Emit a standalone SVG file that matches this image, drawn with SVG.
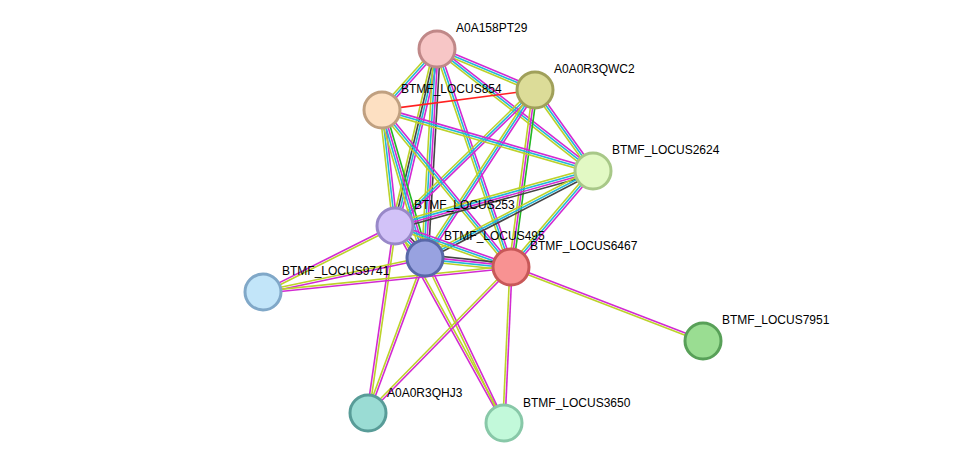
<svg xmlns="http://www.w3.org/2000/svg" width="975" height="470" viewBox="0 0 975 470">
<style>
line{stroke-width:1.6;fill:none}
.m{stroke:#d22ad2}.c{stroke:#22b8d8}.y{stroke:#bcd22a}.k{stroke:#444}.g{stroke:#22b822}.r{stroke:#ff2020}
circle{stroke-width:3}
text{font-family:"Liberation Sans",Arial,sans-serif;font-size:12px;fill:#000}
</style>
<rect width="975" height="470" fill="#fff"/>
<g id="connectors">
<g transform="translate(437,49) rotate(22.7)"><line class="m" x1="0" y1="-2.2" x2="106.2" y2="-2.2"/><line class="c" x1="0" y1="0" x2="106.2" y2="0"/><line class="y" x1="0" y1="2.2" x2="106.2" y2="2.2"/></g>
<g transform="translate(437,49) rotate(132)"><line class="m" x1="0" y1="-2.2" x2="82.1" y2="-2.2"/><line class="c" x1="0" y1="0" x2="82.1" y2="0"/><line class="y" x1="0" y1="2.2" x2="82.1" y2="2.2"/></g>
<g transform="translate(437,49) rotate(103.3)"><line class="m" x1="0" y1="-3.3" x2="181.9" y2="-3.3"/><line class="c" x1="0" y1="-1.1" x2="181.9" y2="-1.1"/><line class="k" x1="0" y1="1.1" x2="181.9" y2="1.1"/><line class="y" x1="0" y1="3.3" x2="181.9" y2="3.3"/></g>
<g transform="translate(437,49) rotate(93.3)"><line class="k" x1="0" y1="-3.3" x2="209.3" y2="-3.3"/><line class="m" x1="0" y1="-1.1" x2="209.3" y2="-1.1"/><line class="c" x1="0" y1="1.1" x2="209.3" y2="1.1"/><line class="y" x1="0" y1="3.3" x2="209.3" y2="3.3"/></g>
<g transform="translate(437,49) rotate(71.3)"><line class="m" x1="0" y1="-2.2" x2="230.2" y2="-2.2"/><line class="c" x1="0" y1="0" x2="230.2" y2="0"/><line class="y" x1="0" y1="2.2" x2="230.2" y2="2.2"/></g>
<g transform="translate(437,49) rotate(38)"><line class="m" x1="0" y1="-2.2" x2="198" y2="-2.2"/><line class="c" x1="0" y1="0" x2="198" y2="0"/><line class="y" x1="0" y1="2.2" x2="198" y2="2.2"/></g>
<g transform="translate(535,90) rotate(172.6)"><line class="r" x1="0" y1="0" x2="154.3" y2="0"/></g>
<g transform="translate(535,90) rotate(54.4)"><line class="m" x1="0" y1="-2.2" x2="99.6" y2="-2.2"/><line class="c" x1="0" y1="0" x2="99.6" y2="0"/><line class="y" x1="0" y1="2.2" x2="99.6" y2="2.2"/></g>
<g transform="translate(535,90) rotate(135.8)"><line class="m" x1="0" y1="-2.2" x2="195.2" y2="-2.2"/><line class="c" x1="0" y1="0" x2="195.2" y2="0"/><line class="y" x1="0" y1="2.2" x2="195.2" y2="2.2"/></g>
<g transform="translate(535,90) rotate(123.2)"><line class="m" x1="0" y1="-2.2" x2="200.8" y2="-2.2"/><line class="c" x1="0" y1="0" x2="200.8" y2="0"/><line class="y" x1="0" y1="2.2" x2="200.8" y2="2.2"/></g>
<g transform="translate(535,90) rotate(97.7)"><line class="g" x1="0" y1="-2.2" x2="178.6" y2="-2.2"/><line class="m" x1="0" y1="0" x2="178.6" y2="0"/><line class="y" x1="0" y1="2.2" x2="178.6" y2="2.2"/></g>
<g transform="translate(382,110) rotate(16.1)"><line class="m" x1="0" y1="-2.2" x2="219.6" y2="-2.2"/><line class="c" x1="0" y1="0" x2="219.6" y2="0"/><line class="y" x1="0" y1="2.2" x2="219.6" y2="2.2"/></g>
<g transform="translate(382,110) rotate(83.6)"><line class="m" x1="0" y1="-2.2" x2="116.7" y2="-2.2"/><line class="c" x1="0" y1="0" x2="116.7" y2="0"/><line class="y" x1="0" y1="2.2" x2="116.7" y2="2.2"/></g>
<g transform="translate(382,110) rotate(73.8)"><line class="g" x1="0" y1="-3.3" x2="154.1" y2="-3.3"/><line class="m" x1="0" y1="-1.1" x2="154.1" y2="-1.1"/><line class="c" x1="0" y1="1.1" x2="154.1" y2="1.1"/><line class="y" x1="0" y1="3.3" x2="154.1" y2="3.3"/></g>
<g transform="translate(382,110) rotate(50.6)"><line class="m" x1="0" y1="-2.2" x2="203.2" y2="-2.2"/><line class="c" x1="0" y1="0" x2="203.2" y2="0"/><line class="y" x1="0" y1="2.2" x2="203.2" y2="2.2"/></g>
<g transform="translate(593,171) rotate(164.5)"><line class="k" x1="0" y1="-3.3" x2="205.5" y2="-3.3"/><line class="m" x1="0" y1="-1.1" x2="205.5" y2="-1.1"/><line class="c" x1="0" y1="1.1" x2="205.5" y2="1.1"/><line class="y" x1="0" y1="3.3" x2="205.5" y2="3.3"/></g>
<g transform="translate(593,171) rotate(152.6)"><line class="k" x1="0" y1="-2.2" x2="189.2" y2="-2.2"/><line class="c" x1="0" y1="0" x2="189.2" y2="0"/><line class="y" x1="0" y1="2.2" x2="189.2" y2="2.2"/></g>
<g transform="translate(593,171) rotate(130.5)"><line class="m" x1="0" y1="-2.2" x2="126.3" y2="-2.2"/><line class="c" x1="0" y1="0" x2="126.3" y2="0"/><line class="y" x1="0" y1="2.2" x2="126.3" y2="2.2"/></g>
<g transform="translate(395,226) rotate(46.8)"><line class="k" x1="0" y1="-3.3" x2="43.9" y2="-3.3"/><line class="m" x1="0" y1="-1.1" x2="43.9" y2="-1.1"/><line class="c" x1="0" y1="1.1" x2="43.9" y2="1.1"/><line class="y" x1="0" y1="3.3" x2="43.9" y2="3.3"/></g>
<g transform="translate(395,226) rotate(19.5)"><line class="m" x1="0" y1="-2.2" x2="123" y2="-2.2"/><line class="c" x1="0" y1="0" x2="123" y2="0"/><line class="y" x1="0" y1="2.2" x2="123" y2="2.2"/></g>
<g transform="translate(395,226) rotate(153.4)"><line class="y" x1="0" y1="-1.1" x2="147.6" y2="-1.1"/><line class="m" x1="0" y1="1.1" x2="147.6" y2="1.1"/></g>
<g transform="translate(395,226) rotate(98.2)"><line class="y" x1="0" y1="-1.1" x2="188.9" y2="-1.1"/><line class="m" x1="0" y1="1.1" x2="188.9" y2="1.1"/></g>
<g transform="translate(395,226) rotate(61)"><line class="y" x1="0" y1="-1.1" x2="225.1" y2="-1.1"/><line class="m" x1="0" y1="1.1" x2="225.1" y2="1.1"/></g>
<g transform="translate(425,258) rotate(6)"><line class="k" x1="0" y1="-3.3" x2="86.5" y2="-3.3"/><line class="m" x1="0" y1="-1.1" x2="86.5" y2="-1.1"/><line class="c" x1="0" y1="1.1" x2="86.5" y2="1.1"/><line class="y" x1="0" y1="3.3" x2="86.5" y2="3.3"/></g>
<g transform="translate(425,258) rotate(168.1)"><line class="m" x1="0" y1="-1.1" x2="165.5" y2="-1.1"/><line class="y" x1="0" y1="1.1" x2="165.5" y2="1.1"/></g>
<g transform="translate(425,258) rotate(110.2)"><line class="m" x1="0" y1="-1.1" x2="165.1" y2="-1.1"/><line class="y" x1="0" y1="1.1" x2="165.1" y2="1.1"/></g>
<g transform="translate(425,258) rotate(64.4)"><line class="m" x1="0" y1="-1.1" x2="182.9" y2="-1.1"/><line class="y" x1="0" y1="1.1" x2="182.9" y2="1.1"/></g>
<g transform="translate(511,267) rotate(174.2)"><line class="m" x1="0" y1="-1.1" x2="249.3" y2="-1.1"/><line class="y" x1="0" y1="1.1" x2="249.3" y2="1.1"/></g>
<g transform="translate(511,267) rotate(21.1)"><line class="m" x1="0" y1="-1.1" x2="205.8" y2="-1.1"/><line class="y" x1="0" y1="1.1" x2="205.8" y2="1.1"/></g>
<g transform="translate(511,267) rotate(134.4)"><line class="m" x1="0" y1="-1.1" x2="204.4" y2="-1.1"/><line class="y" x1="0" y1="1.1" x2="204.4" y2="1.1"/></g>
<g transform="translate(511,267) rotate(92.6)"><line class="m" x1="0" y1="-1.1" x2="156.2" y2="-1.1"/><line class="y" x1="0" y1="1.1" x2="156.2" y2="1.1"/></g>
</g>
<g id="n-A0A158PT29"><circle cx="437" cy="49" r="18" fill="#f7c6c6" stroke="#c08888"/><text x="456" y="32">A0A158PT29</text></g>
<g id="n-A0A0R3QWC2"><circle cx="535" cy="90" r="18" fill="#dcdc98" stroke="#a0a05a"/><text x="554" y="73">A0A0R3QWC2</text></g>
<g id="n-LOCUS854"><circle cx="382" cy="110" r="18" fill="#fde0c2" stroke="#c0a080"/><text x="401" y="93">BTMF_LOCUS854</text></g>
<g id="n-LOCUS2624"><circle cx="593" cy="171" r="18" fill="#e2f9c4" stroke="#a8c888"/><text x="612" y="154">BTMF_LOCUS2624</text></g>
<g id="n-LOCUS253"><circle cx="395" cy="226" r="18" fill="#d2c2f8" stroke="#9888c8"/><text x="414" y="209">BTMF_LOCUS253</text></g>
<g id="n-LOCUS495"><circle cx="425" cy="258" r="18" fill="#98a2e0" stroke="#5868a8"/><text x="444" y="240">BTMF_LOCUS495</text></g>
<g id="n-LOCUS6467"><circle cx="511" cy="267" r="18" fill="#f89292" stroke="#c85858"/><text x="530" y="250">BTMF_LOCUS6467</text></g>
<g id="n-LOCUS9741"><circle cx="263" cy="292" r="18" fill="#c2e5f9" stroke="#80a8c8"/><text x="282" y="275">BTMF_LOCUS9741</text></g>
<g id="n-LOCUS7951"><circle cx="703" cy="341" r="18" fill="#9add92" stroke="#58a058"/><text x="722" y="324">BTMF_LOCUS7951</text></g>
<g id="n-A0A0R3QHJ3"><circle cx="368" cy="413" r="18" fill="#9adcd4" stroke="#589c98"/><text x="387" y="397">A0A0R3QHJ3</text></g>
<g id="n-LOCUS3650"><circle cx="504" cy="423" r="18" fill="#c2f9da" stroke="#88c8a8"/><text x="523" y="407">BTMF_LOCUS3650</text></g>
</svg>
